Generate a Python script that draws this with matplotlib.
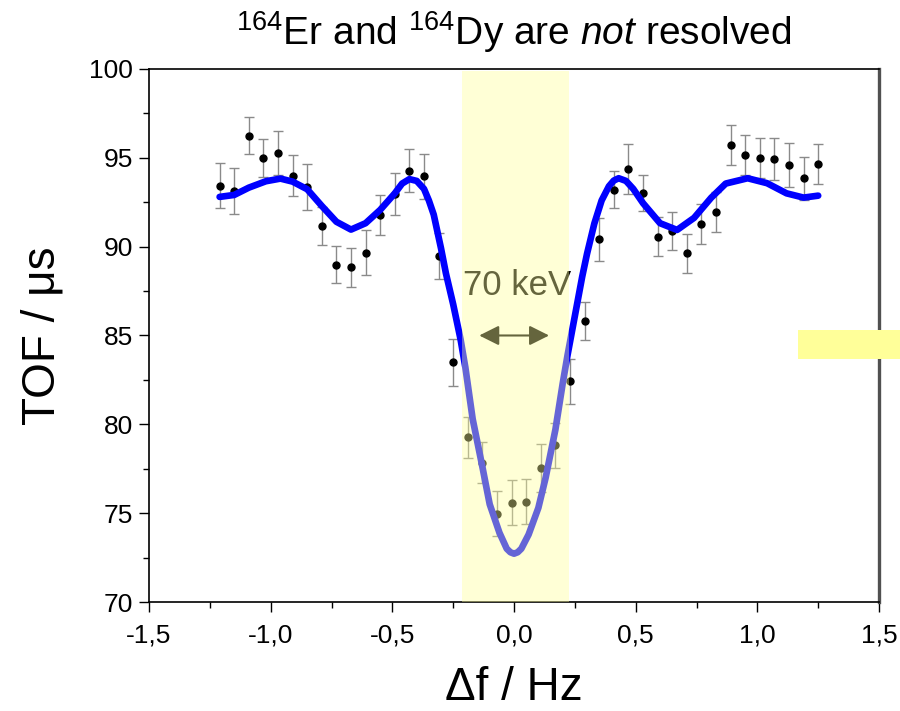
import matplotlib
matplotlib.use("Agg")
import matplotlib.pyplot as plt
from matplotlib.patches import Rectangle
from matplotlib.ticker import MultipleLocator, FuncFormatter

plt.rcParams['font.family'] = ['Liberation Sans', 'DejaVu Sans']
plt.rcParams['mathtext.fontset'] = 'custom'
plt.rcParams['mathtext.rm'] = 'Liberation Sans'
plt.rcParams['mathtext.it'] = 'Liberation Sans:italic'
plt.rcParams['axes.unicode_minus'] = False

# measured TOF points (Hz, us)
freq = [-1.21, -1.15, -1.09, -1.03, -0.97, -0.91, -0.85, -0.79, -0.73, -0.67,
        -0.61, -0.55, -0.49, -0.43, -0.37, -0.31, -0.25, -0.19, -0.13, -0.07,
        -0.01, 0.05, 0.11, 0.17, 0.23, 0.29, 0.35, 0.41, 0.47, 0.53,
        0.59, 0.65, 0.71, 0.77, 0.83, 0.89, 0.95, 1.01, 1.07, 1.13,
        1.19, 1.25]
tof = [93.43, 93.13, 96.25, 94.99, 95.27, 94.00, 93.36, 91.18, 88.99, 88.84,
       89.65, 91.77, 92.95, 94.28, 93.96, 89.46, 83.49, 79.26, 77.85, 74.96,
       75.60, 75.65, 77.53, 78.81, 82.42, 85.80, 90.42, 93.21, 94.39, 93.04,
       90.55, 90.88, 89.63, 91.26, 91.94, 95.70, 95.14, 95.01, 94.95, 94.60,
       93.85, 94.64]
tof_err = [1.28, 1.28, 1.06, 1.08, 1.24, 1.14, 1.28, 1.06, 1.02, 1.10,
           1.26, 1.14, 1.19, 1.22, 1.28, 1.28, 1.34, 1.17, 1.13, 1.27,
           1.27, 1.25, 1.35, 1.27, 1.26, 1.08, 1.21, 1.06, 1.40, 1.02,
           1.10, 1.09, 1.09, 1.13, 1.13, 1.12, 1.13, 1.13, 1.19, 1.25,
           1.22, 1.12]

# fitted curve
fit_x = [-1.21, -1.15, -1.09, -1.02, -0.96, -0.91, -0.85, -0.79, -0.73, -0.67,
         -0.61, -0.55, -0.49, -0.46, -0.43, -0.40, -0.37, -0.35, -0.33, -0.30,
         -0.28, -0.25, -0.22, -0.20, -0.17, -0.13, -0.10, -0.06, -0.03, -0.015,
         0.00, 0.015, 0.03, 0.06, 0.10, 0.13, 0.17, 0.20, 0.22, 0.25,
         0.28, 0.30, 0.33, 0.36, 0.39, 0.41, 0.43, 0.46, 0.49, 0.53,
         0.60, 0.67, 0.74, 0.81, 0.87, 0.96, 1.04, 1.12, 1.19, 1.25]
fit_y = [92.80, 92.91, 93.32, 93.68, 93.83, 93.66, 93.23, 92.29, 91.40, 90.96,
         91.32, 92.07, 93.00, 93.55, 93.80, 93.70, 93.25, 92.60, 91.80, 89.90,
         88.50, 86.75, 84.80, 83.20, 80.30, 77.60, 75.50, 73.90, 73.00, 72.80,
         72.72, 72.80, 73.00, 73.80, 75.30, 77.00, 79.70, 82.30, 83.90, 86.10,
         88.30, 89.60, 91.30, 92.60, 93.40, 93.72, 93.85, 93.70, 93.25, 92.45,
         91.32, 90.94, 91.62, 92.75, 93.55, 93.85, 93.57, 93.00, 92.76, 92.87]

band = (-0.214, 0.224)
width_arrow = (-0.143, 0.144)

fig = plt.figure(figsize=(9, 7.11), dpi=100)
ax = fig.add_axes([0.1656, 0.1533, 0.8111, 0.7497])

ax.errorbar(freq, tof, yerr=tof_err, fmt='o', color='black', ms=5,
            ecolor='#8a8a8a', elinewidth=1, capsize=3.6, capthick=1, zorder=2)
ax.plot(fit_x, fit_y, color='#0000ff', lw=4.8, solid_joinstyle='round',
        solid_capstyle='round', zorder=3)

ax.annotate('', xy=(width_arrow[0], 85), xytext=(width_arrow[1], 85),
            arrowprops=dict(arrowstyle='<|-|>,head_length=1.0,head_width=0.5',
                            color='black', lw=1.5, mutation_scale=12,
                            shrinkA=0, shrinkB=0), zorder=3)
ax.text(0.014, 87.3, '70 keV', ha='center', va='baseline', fontsize=25,
        color='black', zorder=3)

# translucent yellow band drawn over the data
ax.axvspan(band[0], band[1], ymax=0.996, color='#ffff99', alpha=0.4, lw=0, zorder=5)

ax.set_xlim(-1.5, 1.5)
ax.set_ylim(70, 100)
ax.xaxis.set_major_locator(MultipleLocator(0.5))
ax.xaxis.set_minor_locator(MultipleLocator(0.25))
ax.yaxis.set_major_locator(MultipleLocator(5))
ax.yaxis.set_minor_locator(MultipleLocator(2.5))
ax.xaxis.set_major_formatter(FuncFormatter(lambda v, p: ("%.1f" % v).replace('.', ',')))
ax.yaxis.set_major_formatter(FuncFormatter(lambda v, p: "%d" % v))

ax.tick_params(which='both', direction='out', top=False, right=False, width=1)
ax.tick_params(which='major', length=7.5, labelsize=19)
ax.tick_params(which='minor', length=4)
ax.tick_params(axis='x', pad=8)
ax.tick_params(axis='y', pad=4)

for s in ax.spines.values():
    s.set_linewidth(1.2)
ax.spines['right'].set_color('#505050')
ax.spines['right'].set_linewidth(2.4)

ax.set_xlabel(u'\u0394f / Hz', fontsize=33, labelpad=13)
ax.set_ylabel(u'TOF / \u03bcs', fontsize=33, labelpad=18)
ax.set_title(r'$^{164}$Er and $^{164}$Dy are $\mathit{not}$ resolved',
             fontsize=28, pad=17)

# stray yellow box at the right edge
fig.patches.append(Rectangle((798 / 900, 1 - 359 / 711), 102 / 900, 29 / 711,
                             transform=fig.transFigure, facecolor='#ffff99',
                             edgecolor='none', zorder=10))

fig.savefig('out.png', dpi=100)
